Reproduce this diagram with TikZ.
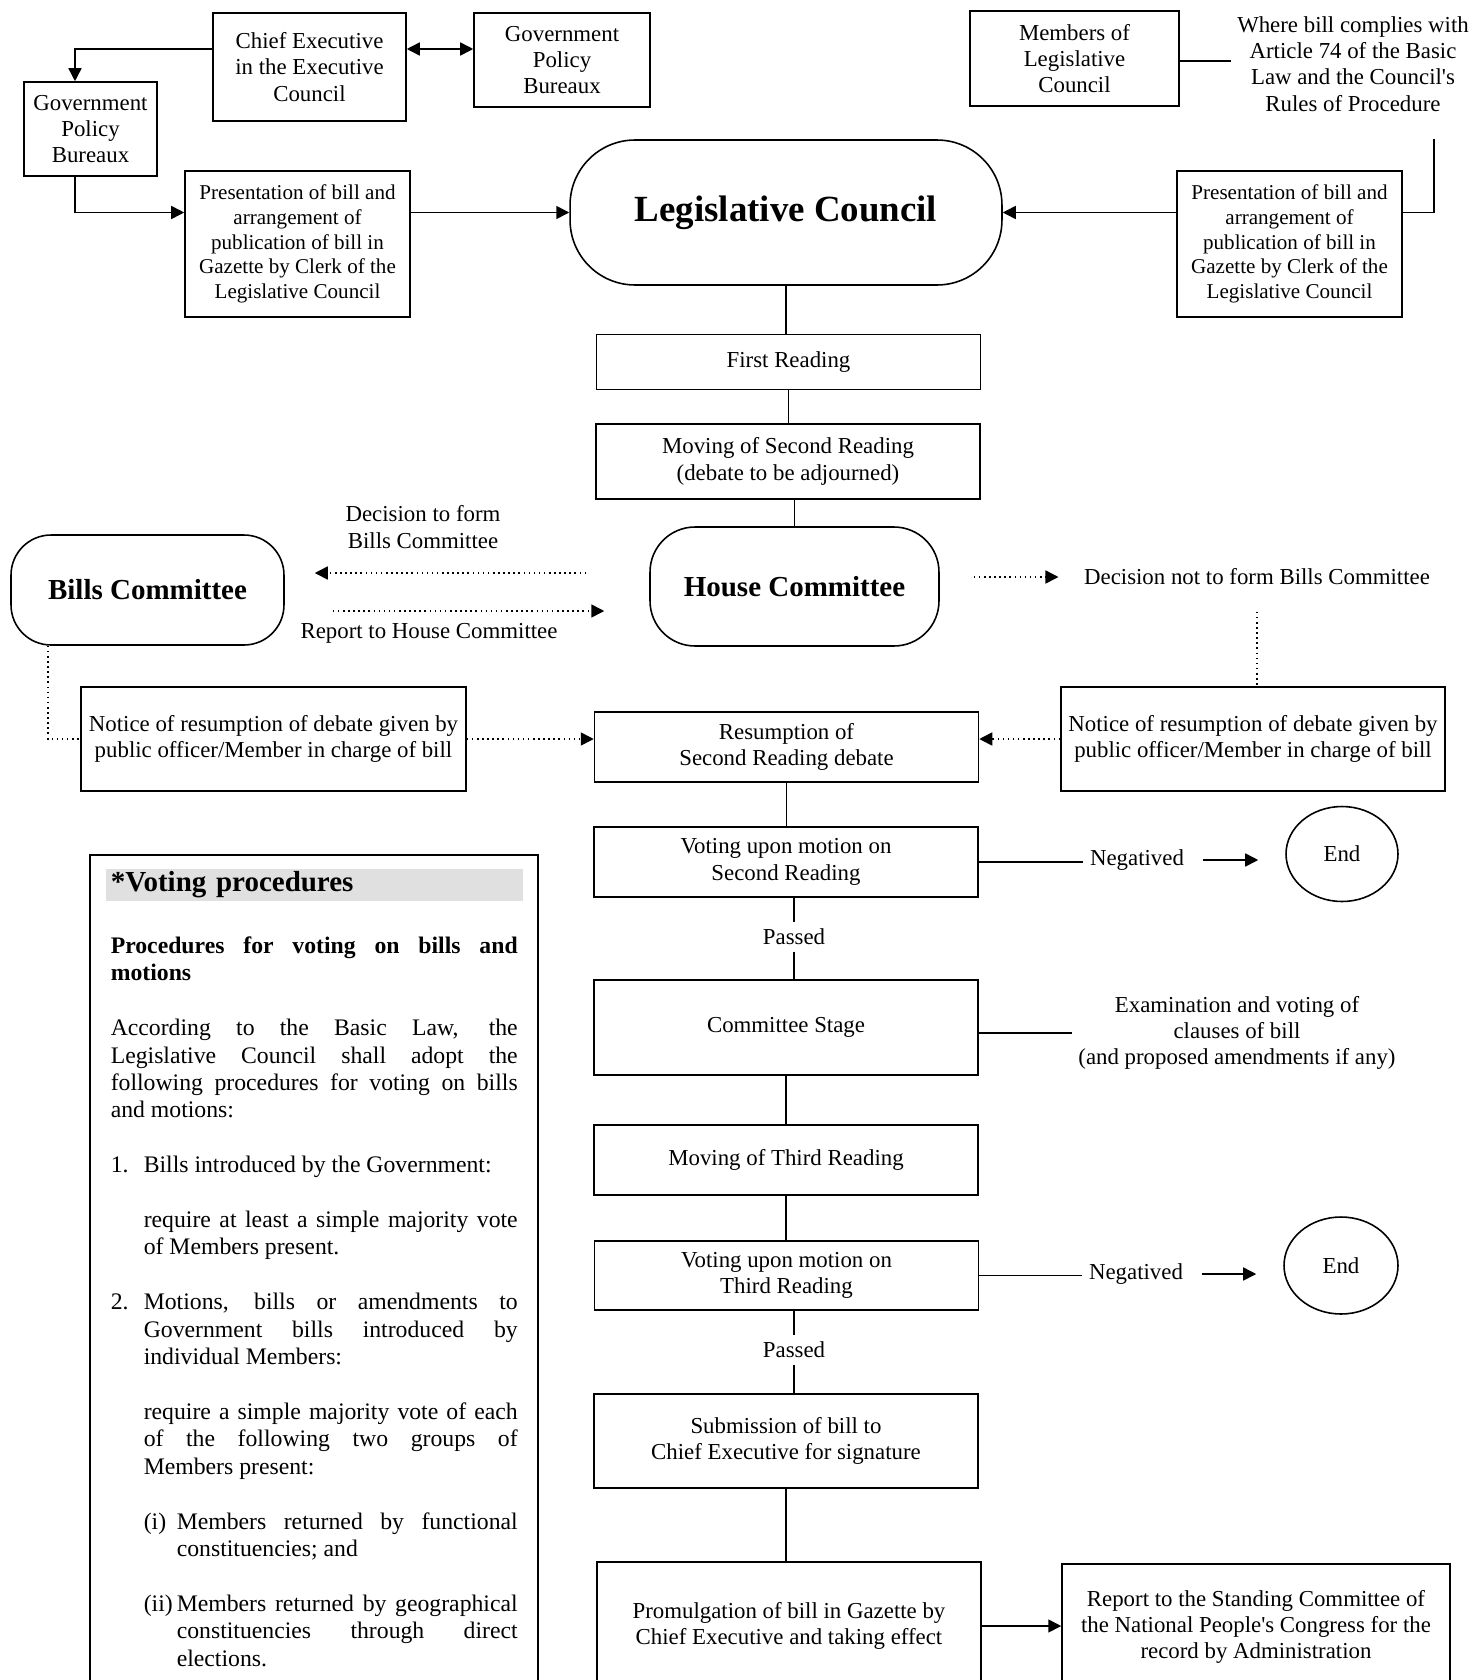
\documentclass[tikz,border=0pt]{standalone}
\usepackage{fontspec}
\setmainfont{Liberation Serif}
\usepackage{tikz}
\usetikzlibrary{shapes,arrows.meta,calc,positioning}

\newcommand{\flowfont}{\fontsize{13}{15}\selectfont}
\newcommand{\presfont}{\fontsize{12}{14}\selectfont}
\newcommand{\votefont}{\fontsize{13.5}{15.6}\selectfont}
\newcommand{\q}{\textquotesingle}

\begin{document}
\begin{tikzpicture}[x=0.02cm, y=-0.02cm, line width=0.9pt, >={Triangle[length=2.6mm,width=2.6mm]}]
    \tikzstyle{box}=[draw, rectangle, align=center, font=\flowfont, inner sep=2pt]
    \tikzstyle{pres}=[box, font=\presfont, minimum width=4.5cm, minimum height=2.92cm]
    \tikzstyle{stage}=[box, minimum width=7.68cm]
    \tikzstyle{council}=[draw, align=center]
    \tikzstyle{note}=[align=center, font=\flowfont]
    \tikzstyle{endnode}=[draw, ellipse, font=\flowfont, minimum width=2.24cm, minimum height=1.9cm]
    \tikzstyle{dotline}=[dotted]
    \useasboundingbox (0,0) rectangle (1471,1680);

    % who brings the bill
    \node[box, minimum width=3.86cm, minimum height=2.16cm] (ce) at (309.5,67) {Chief Executive\\in the Executive\\Council};
    \node[box, minimum width=3.52cm, minimum height=1.88cm] (gpbR) at (562,60) {Government\\Policy\\Bureaux};
    \node[box, minimum width=2.66cm, minimum height=1.88cm] (gpbL) at (90.5,129) {Government\\Policy\\Bureaux};
    \node[pres] (presL) at (297.5,244) {Presentation of bill and\\arrangement of\\publication of bill in\\Gazette by Clerk of the\\Legislative Council};
    \node[council, minimum width=8.64cm, minimum height=2.9cm, rounded corners=1.3cm, font=\fontsize{21}{25}\selectfont\bfseries] (lc) at (786,212.5) {Legislative Council};
    \node[box, minimum width=4.18cm, minimum height=1.9cm] (mlc) at (1074.5,58.5) {Members of\\Legislative\\Council};
    \node[note] (where) at (1353,64) {Where bill complies with\\Article 74 of the Basic\\Law and the Council\q s\\Rules of Procedure};
    \node[pres] (presR) at (1289.5,244) {Presentation of bill and\\arrangement of\\publication of bill in\\Gazette by Clerk of the\\Legislative Council};
    \coordinate (wbend) at (1434,139);

    % readings
    \node[stage, minimum height=1.1cm] (fr) at (788.5,362) {First Reading};
    \node[stage, minimum height=1.5cm] (msr) at (788,461.5) {Moving of Second Reading\\(debate to be adjourned)};
    \node[council, minimum width=5.78cm, minimum height=2.38cm, rounded corners=0.9cm, font=\fontsize{16.5}{19}\selectfont\bfseries] (hc) at (794.5,586.5) {House Committee};
    \node[council, minimum width=5.46cm, minimum height=2.2cm, rounded corners=0.8cm, font=\fontsize{16.5}{19}\selectfont\bfseries] (bc) at (147.5,590) {Bills Committee};
    \node[note] (decform) at (423,527) {Decision to form\\Bills Committee};
    \node[note] (report) at (429,633) {Report to House Committee};
    \node[note] (decnot) at (1257,577) {Decision not to form Bills Committee};
    \node[box, minimum width=7.7cm, minimum height=2.08cm] (noticeL) at (273.5,739) {Notice of resumption of debate given by\\public officer/Member in charge of bill};
    \node[box, minimum width=7.68cm, minimum height=2.08cm] (noticeR) at (1253,739) {Notice of resumption of debate given by\\public officer/Member in charge of bill};
    \node[stage, minimum height=1.4cm] (res) at (786.5,747) {Resumption of\\Second Reading debate};
    \node[stage, minimum height=1.4cm] (vote2) at (786,862) {Voting upon motion on\\Second Reading};
    \node[note] (neg1) at (1137,860) {Negatived};
    \node[endnode] (end1) at (1342,854) {End};
    \node[note] (pass1) at (794,937) {Passed};
    \node[stage, minimum height=1.9cm] (cs) at (786,1027.5) {Committee Stage};
    \node[note] (exam) at (1237,1033) {Examination and voting of\\clauses of bill\\(and proposed amendments if any)};
    \node[stage, minimum height=1.4cm] (mtr) at (786,1160) {Moving of Third Reading};
    \node[stage, minimum height=1.38cm] (vote3) at (786.5,1275.5) {Voting upon motion on\\Third Reading};
    \node[note] (neg2) at (1136,1274) {Negatived};
    \node[endnode, minimum width=2.28cm, minimum height=1.94cm] (end2) at (1341,1265.5) {End};
    \node[note] (pass2) at (794,1350) {Passed};
    \node[stage, minimum height=1.88cm] (sub) at (786,1441) {Submission of bill to\\Chief Executive for signature};
    \node[stage, minimum height=2.56cm] (prom) at (789,1626) {Promulgation of bill in Gazette by\\Chief Executive and taking effect};
    \node[box, minimum width=7.76cm, minimum height=2.52cm] (rep) at (1256,1627) {Report to the Standing Committee of\\the National People\q s Congress for the\\record by Administration};

    % connectors
    \draw[->] (ce.west |- 0,49) -| ([xshift=-0.31cm]gpbL.north);
    \draw[<->] (ce.east |- 0,49) -- (gpbR.west |- 0,49);
    \draw[->] ([xshift=-0.31cm]gpbL.south) |- (presL.west |- lc.west);
    \draw[->] (presL.east |- lc.west) -- (lc.west);
    \draw (mlc.east |- 0,61) -- (where.west |- 0,61);
    \draw (wbend) |- (presR.east |- lc.east);
    \draw[->] (presR.west |- lc.east) -- (lc.east);
    \foreach \a/\b in {lc/fr, fr/msr, res/vote2, cs/mtr, mtr/vote3, sub/prom}
        \draw (\a.south) -- (\a.south |- \b.north);
    \draw (hc.north |- msr.south) -- (hc.north);
    \draw[dotline, ->, shorten <=1.26cm, shorten >=0.6cm] (hc.west |- 0,573) -- (bc.east |- 0,573);
    \draw[dotline, ->, shorten <=0.96cm, shorten >=0.9cm] (bc.east |- 0,611) -- (hc.west |- 0,611);
    \draw[dotline, ->, shorten <=0.68cm, shorten >=0.38cm] (hc.east |- decnot.west) -- (decnot.west);
    \draw[dotline, shorten <=0.4cm] (decnot.south) -- (decnot.south |- noticeR.north);
    \draw[dotline] ([xshift=-1.99cm]bc.south) |- (noticeL.west);
    \draw[dotline, ->] (noticeL.east) -- (noticeL.east -| res.west);
    \draw[dotline, ->] (noticeR.west) -- (noticeR.west -| res.east);
    \foreach \a/\n/\e in {vote2/neg1/end1, vote3/neg2/end2} {
        \draw (\a.east) -- (\a.east -| \n.west);
        \draw[->, shorten <=0.24cm, shorten >=0.54cm] (\n.east) -- (\n.east -| \e.west);
    }
    \foreach \a/\p/\b in {vote2/pass1/cs, vote3/pass2/sub} {
        \draw (\p |- \a.south) -- (\p.north);
        \draw (\p.south) -- (\p |- \b.north);
    }
    \draw (exam.west -| cs.east) -- (exam.west);
    \draw[->] (prom.east) -- (prom.east -| rep.west);

    % voting procedures
    \draw (90,855) rectangle (538,1700);
    \node[fill=black!12, anchor=north west, text width=8.14cm, inner xsep=0.1cm, inner ysep=0pt, minimum height=0.64cm, font=\fontsize{16.5}{18}\selectfont\bfseries] (vphead) at (105,868) {*Voting procedures};
    \node[anchor=north west, inner sep=0pt, text width=8.14cm, align=justify, font=\votefont] (vptext) at (110,936) {%
        \parindent=0pt\parskip=15.6pt\hyphenpenalty=10000\exhyphenpenalty=10000
        \textbf{Procedures for voting on bills and\linebreak motions}\par
        According to the Basic Law, the\linebreak Legislative Council shall adopt the\linebreak following procedures for voting on bills\linebreak and motions:\par
        \noindent\hangindent=0.66cm\hangafter=1\makebox[0.66cm][l]{1.}Bills introduced by the Government:\par
        {\leftskip=0.66cm require at least a simple majority vote\linebreak of Members present.\par}
        \noindent\hangindent=0.66cm\hangafter=1\makebox[0.66cm][l]{2.}Motions, bills or amendments to\linebreak Government bills introduced by\linebreak individual Members:\par
        {\leftskip=0.66cm require a simple majority vote of each\linebreak of the following two groups of\linebreak Members present:\par}
        {\leftskip=0.66cm \noindent\hangindent=0.66cm\hangafter=1\makebox[0.66cm][l]{(i)}Members returned by functional\linebreak constituencies; and\par}
        {\leftskip=0.66cm \noindent\hangindent=0.66cm\hangafter=1\makebox[0.66cm][l]{(ii)}Members returned by geographical\linebreak constituencies through direct\linebreak elections.\par}
    };
\end{tikzpicture}
\end{document}
